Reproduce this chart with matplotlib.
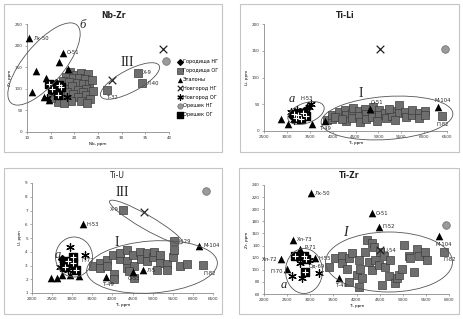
import matplotlib
matplotlib.use("Agg")
import matplotlib.pyplot as plt
from matplotlib.patches import Ellipse, Rectangle
from matplotlib.transforms import Affine2D

W, H = 463, 319

# ---- data: Nb-Zr ----
nbzr_gog_nb = [19.0, 20.3, 21.5, 22.8, 18.2, 19.8, 21.0, 22.3, 17.5, 18.8, 20.5, 21.8, 23.0, 16.8, 19.5,
               22.5, 17.8, 20.8, 21.8, 18.5, 19.8, 22.5, 17.0, 20.8, 23.3, 18.0, 19.2, 21.5, 16.5, 22.7,
               17.8, 15.5, 15.0, 24.0, 23.8, 16.0, 33.5, 34.4, 26.8]
nbzr_gog_zr = [138, 132, 136, 134, 128, 124, 126, 122, 118, 116, 114, 112, 110, 108, 106,
               100, 100, 98, 92, 92, 88, 86, 86, 80, 76, 76, 72, 72, 70, 66,
               66, 90, 78, 94, 120, 96, 137, 113, 97]
nbzr_et_nb = [10.5, 17.5, 16.8, 18.6, 11.9, 14.0, 11.1, 14.7, 13.5]
nbzr_et_zr = [217, 184, 163, 146, 141, 126, 92, 74, 82]
nbzr_nng_nb = [38.8, 28.0]
nbzr_nng_zr = [191, 120]
nbzr_nog_nb = [14.2, 18.5, 15.8]
nbzr_nog_zr = [78, 80, 92]
nbzr_ong_nb = [39.4]
nbzr_ong_zr = [164]
nbzr_oog_nb = [14.7, 16.8, 16.5, 15.2, 17.2]
nbzr_oog_zr = [110, 108, 86, 100, 104]
nbzr_gng_nb = [16.2, 15.8]
nbzr_gng_zr = [114, 103]

# ---- data: Ti-Li ----
tili_gog_ti = [3877, 3986, 3990, 4131, 4150, 4277, 4290, 4300, 4423, 4430, 4440, 4568, 4580, 4600, 4714,
               4720, 4730, 4860, 4870, 4880, 5006, 5010, 5151, 5160, 5297, 5300, 5443, 5450, 5589, 5600,
               5734, 5740, 5880, 5890, 6026, 6030, 6390, 4050, 4200, 5230, 5370, 4960]
tili_gog_li = [20, 22, 30, 26, 36, 40, 30, 18, 34, 25, 43, 38, 28, 16, 42,
               32, 22, 36, 26, 45, 40, 30, 34, 24, 38, 28, 48, 33, 36, 26,
               30, 40, 34, 24, 38, 30, 28, 26, 22, 42, 20, 18]
tili_et_ti = [2878, 3025, 3549, 4824, 6297, 3840, 3450]
tili_et_li = [22, 14, 13, 41, 44, 18, 46]
tili_nng_ti = [5029]
tili_nng_li = [153]
tili_ong_ti = [6464]
tili_ong_li = [153]
tili_oog_ti = [3150, 3250, 3350, 3200, 3300, 3420]
tili_oog_li = [32, 30, 34, 24, 22, 28]
tili_nog_ti = [3100, 3230, 3300, 3520, 3480, 3150]
tili_nog_li = [36, 40, 27, 50, 44, 20]
tili_gng_ti = [3380, 3120]
tili_gng_li = [38, 28]

# ---- data: Ti-U ----
tiu_gog_ti = [3524, 3690, 3700, 3856, 3870, 4022, 4030, 4040, 4188, 4200, 4353, 4360, 4370, 4519, 4530,
              4685, 4700, 4851, 4860, 5017, 5030, 5182, 5190, 5348, 5360, 5514, 5520, 5680, 5846, 4530,
              4400, 5100, 6258, 5530, 4270]
tiu_gog_u = [3.0, 3.2, 2.8, 3.4, 3.0, 3.8, 2.4, 2.0, 3.5, 3.9, 4.1, 3.3, 2.8, 3.8, 3.0,
             4.0, 3.5, 3.3, 3.9, 3.6, 4.0, 3.2, 3.8, 3.1, 2.7, 3.6, 4.1, 3.0, 3.1, 2.1,
             2.6, 2.7, 3.04, 4.78, 7.04]
tiu_et_ti = [2465, 2614, 2738, 2945, 3168, 3840, 4518, 4751, 3260, 6160]
tiu_et_u = [2.07, 2.07, 2.3, 2.3, 2.26, 2.14, 2.55, 2.67, 6.0, 4.42]
tiu_nng_ti = [4785]
tiu_nng_u = [6.87]
tiu_nog_ti = [2945, 3318, 2780, 2696, 2900]
tiu_nog_u = [4.32, 3.76, 3.4, 2.9, 2.7]
tiu_oog_ti = [3027, 3012, 2820, 3094, 2900]
tiu_oog_u = [3.64, 3.16, 2.92, 2.67, 3.3]
tiu_ong_ti = [6318]
tiu_ong_u = [8.44]
tiu_gng_ti = [2750]
tiu_gng_u = [3.5]

# ---- data: Ti-Zr ----
tizr_gog_ti = [3398, 3542, 3686, 3686, 3794, 3830, 3903, 4011, 4047, 4083, 4119, 4191, 4227, 4263, 4335,
               4335, 4371, 4407, 4479, 4515, 4551, 4587, 4623, 4695, 4731, 4839, 4875, 4911, 4983, 5019,
               5127, 5163, 5236, 5308, 5344, 5488, 5524, 3830, 4047, 5885]
tizr_gog_zr = [105, 119, 122, 111, 102, 119, 127, 91, 116, 102, 86, 130, 149, 113, 144,
               100, 138, 116, 108, 130, 75, 122, 105, 89, 116, 78, 86, 91, 102, 141,
               122, 119, 97, 135, 122, 130, 116, 80, 72, 130]
tizr_et_ti = [3016, 4335, 4480, 5777, 2627, 2785, 2375, 3096, 2497, 3615]
tizr_et_zr = [226, 193, 171, 156, 150, 135, 117, 119, 102, 86]
tizr_nng_ti = [4500]
tizr_nng_zr = [133]
tizr_ong_ti = [5935]
tizr_ong_zr = [174]
tizr_oog_ti = [2677, 2908, 2893, 2870]
tizr_oog_zr = [122, 118, 96, 122]
tizr_nog_ti = [2605, 2822, 3183, 2785, 2966]
tizr_nog_zr = [89, 86, 94, 111, 116]
tizr_gng_ti = [2750]
tizr_gng_zr = [125]

legend_names = ['Городища НГ', 'Городища ОГ', 'Эталоны', 'Новгород НГ',
                'Новгород ОГ', 'Орешек НГ', 'Орешек ОГ']

fig = plt.figure(figsize=(W / 100, H / 100), dpi=100)
fig.patch.set_facecolor('white')
px = Affine2D().scale(1.0 / W, 1.0 / H) + fig.transFigure

# panel frames
for x0, y0, x1, y1 in [(4, 4, 222, 152), (240, 4, 459, 152), (4, 168, 222, 314), (239, 168, 459, 314)]:
    fig.add_artist(Rectangle((x0, H - y1), x1 - x0, y1 - y0, transform=px,
                             fill=False, ec='#c4c4c4', lw=0.8))


def make_ax(x0, x1, ytop, ybot):
    ax = fig.add_axes([x0 / W, 1 - ybot / H, (x1 - x0) / W, (ybot - ytop) / H])
    for s in ['top', 'right']:
        ax.spines[s].set_visible(False)
    for s in ['left', 'bottom']:
        ax.spines[s].set_color('#8a8a8a')
        ax.spines[s].set_linewidth(0.6)
    ax.tick_params(length=1.5, width=0.5, colors='#8a8a8a', labelsize=3, labelcolor='#333333', pad=1.5)
    ax.set_facecolor('none')
    return ax


def draw(ax, gng, gog, et, nng, nog, ong, oog, add_label=False):
    kw = dict(clip_on=False)
    lab = legend_names if add_label else [None] * 7
    ax.scatter(*gng, marker='D', s=16, c='black', label=lab[0], zorder=4, **kw)
    ax.scatter(*gog, marker='s', s=28, c='#6e6e6e', edgecolors='#3c3c3c', linewidths=0.5,
               label=lab[1], zorder=3, **kw)
    ax.scatter(*et, marker='^', s=30, c='black', linewidths=0, label=lab[2], zorder=4, **kw)
    ax.scatter(*nng, marker='x', s=30, c='#222222', linewidths=0.9, label=lab[3], zorder=4, **kw)
    ax.scatter(*nog, marker=(6, 2, 0), s=30, c='black', linewidths=0.9, label=lab[4], zorder=4, **kw)
    ax.scatter(*ong, marker='o', s=30, c='#9a9a9a', edgecolors='#6a6a6a', linewidths=0.5,
               label=lab[5], zorder=4, **kw)
    ax.scatter(*oog, marker='s', s=28, c='black', label=lab[6], zorder=4, **kw)
    ax.scatter(*oog, marker='+', s=16, c='white', linewidths=0.8, zorder=5, **kw)


def tag(ax, x, y, text, dx, dy, ha='left'):
    ax.annotate(text, (x, y), xytext=(dx, dy), textcoords='offset points', fontsize=3.8,
                ha=ha, va='center', color='#222222', zorder=6)


def ellipse(cx, cy, w, h, ang):
    fig.add_artist(Ellipse((cx, H - cy), w, h, angle=ang, transform=px, fill=False,
                           ec='#555555', lw=0.6))


def big(x, y, text, size=9, style='italic'):
    fig.text(x / W, 1 - y / H, text, fontsize=size, style=style, family='Liberation Serif',
             ha='center', va='center', color='#222222')


def title(x, y, text, weight='bold'):
    fig.text(x / W, 1 - y / H, text, fontsize=5.5, fontweight=weight,
             ha='center', va='center', color='#222222')


# ---- Nb-Zr ----
ax1 = make_ax(27, 169, 24, 132)
draw(ax1, (nbzr_gng_nb, nbzr_gng_zr), (nbzr_gog_nb, nbzr_gog_zr), (nbzr_et_nb, nbzr_et_zr),
     (nbzr_nng_nb, nbzr_nng_zr), (nbzr_nog_nb, nbzr_nog_zr), (nbzr_ong_nb, nbzr_ong_zr),
     (nbzr_oog_nb, nbzr_oog_zr), add_label=True)
ax1.set_xlim(10, 40)
ax1.set_ylim(0, 250)
ax1.set_xticks(range(10, 41, 5))
ax1.set_yticks(range(0, 251, 50))
title(114, 15, 'Nb-Zr')
ax1.set_xlabel('Nb, ppm', fontsize=3, labelpad=1.5)
ax1.set_ylabel('Zr, ppm', fontsize=3, labelpad=2)
tag(ax1, 10.5, 217, 'Лх-50', 3, 0)
tag(ax1, 17.5, 184, 'О-51', 3, 0)
tag(ax1, 33.5, 137, 'Х-9', 3, 0)
tag(ax1, 34.4, 113, 'Л-40', 3, 0)
tag(ax1, 26.8, 97, 'Т-32', 0, -5)
ellipse(44, 64, 102, 40, 50)
ellipse(130, 81, 66, 22, 28)
big(83, 25, 'б')
big(127, 63, 'III', size=10, style='normal')
ax1.legend(loc='upper left', bbox_to_anchor=(175 / W, 1 - 57 / H), bbox_transform=fig.transFigure,
           frameon=False, fontsize=3.6, labelspacing=0.75, handlelength=0.8, handletextpad=0.3,
           markerscale=0.7, borderpad=0)

# ---- Ti-Li ----
ax2 = make_ax(264, 447, 24, 131)
draw(ax2, (tili_gng_ti, tili_gng_li), (tili_gog_ti, tili_gog_li), (tili_et_ti, tili_et_li),
     (tili_nng_ti, tili_nng_li), (tili_nog_ti, tili_nog_li), (tili_ong_ti, tili_ong_li),
     (tili_oog_ti, tili_oog_li))
ax2.set_xlim(2500, 6500)
ax2.set_ylim(0, 200)
ax2.set_xticks(range(2500, 6501, 500))
ax2.set_yticks(range(0, 201, 50))
title(345, 15, 'Ti-Li')
ax2.set_xlabel('Ti, ppm', fontsize=3, labelpad=1.5)
ax2.set_ylabel('Li, ppm', fontsize=3, labelpad=2)
tag(ax2, 3300, 48, 'Н-53', 0, 5)
tag(ax2, 4824, 41, 'О-51', 0, 5)
tag(ax2, 6297, 44, 'М-104', -2, 5)
tag(ax2, 6390, 28, 'П-82', -4, -6)
tag(ax2, 3840, 18, 'Т-49', -4, -5)
ellipse(306, 113, 38, 20, 20)
ellipse(387, 118, 132, 43, 4)
big(292, 99, 'a')
big(361, 93, 'I', size=10, style='normal')

# ---- Ti-U ----
ax3 = make_ax(32, 213, 183, 293)
draw(ax3, (tiu_gng_ti, tiu_gng_u), (tiu_gog_ti, tiu_gog_u), (tiu_et_ti, tiu_et_u),
     (tiu_nng_ti, tiu_nng_u), (tiu_nog_ti, tiu_nog_u), (tiu_ong_ti, tiu_ong_u),
     (tiu_oog_ti, tiu_oog_u))
ax3.set_xlim(2000, 6500)
ax3.set_ylim(1, 9)
ax3.set_xticks(range(2000, 6501, 500))
ax3.set_yticks(range(1, 10))
title(117, 175, 'Ti-U', weight='normal')
ax3.set_xlabel('Ti, ppm', fontsize=3, labelpad=1.5)
ax3.set_ylabel('U, ppm', fontsize=3, labelpad=2)
tag(ax3, 3260, 6.0, 'Н-53', 3, 0)
tag(ax3, 4270, 7.04, 'Х-9', -3, 0, ha='right')
tag(ax3, 5530, 4.78, 'Н-29', 3, 0)
tag(ax3, 6160, 4.42, 'М-104', 3, 0)
tag(ax3, 6258, 3.04, 'П-82', 0, -6)
tag(ax3, 3840, 2.14, 'Т-49', -2, -5)
tag(ax3, 4518, 2.55, 'О-53', -4, -5)
tag(ax3, 4751, 2.67, 'Л-5', 3, 0)
tag(ax3, 3094, 3.4, 'П-72', 4, 0)
ellipse(74, 257, 37, 40, 0)
ellipse(152, 267, 131, 52, 4)
ellipse(146, 222, 84, 14, -30)
big(58, 255, 'a')
big(117, 242, 'I', size=10, style='normal')
big(122, 193, 'III', size=10, style='normal')

# ---- Ti-Zr ----
ax4 = make_ax(264, 449, 185, 294)
draw(ax4, (tizr_gng_ti, tizr_gng_zr), (tizr_gog_ti, tizr_gog_zr), (tizr_et_ti, tizr_et_zr),
     (tizr_nng_ti, tizr_nng_zr), (tizr_nog_ti, tizr_nog_zr), (tizr_ong_ti, tizr_ong_zr),
     (tizr_oog_ti, tizr_oog_zr))
ax4.set_xlim(2000, 6000)
ax4.set_ylim(60, 240)
ax4.set_xticks(range(2000, 6001, 500))
ax4.set_yticks(range(60, 241, 20))
title(349, 175, 'Ti-Zr')
ax4.set_xlabel('Ti, ppm', fontsize=3, labelpad=1.5)
ax4.set_ylabel('Zr, ppm', fontsize=3, labelpad=2)
tag(ax4, 3016, 226, 'Лх-50', 3, 0)
tag(ax4, 4335, 193, 'О-51', 3, 0)
tag(ax4, 4480, 171, 'П-52', 3, 0)
tag(ax4, 5777, 156, 'М-104', -2, -6)
tag(ax4, 5885, 130, 'П-82', 0, -6)
tag(ax4, 2627, 150, 'Хл-73', 3, 0)
tag(ax4, 2785, 135, 'Р-71', 3, 1)
tag(ax4, 2375, 117, 'Хл-72', -3, 0, ha='right')
tag(ax4, 3096, 119, 'Н-55', 3, 0)
tag(ax4, 2497, 102, 'П-70', -3, -2, ha='right')
tag(ax4, 3615, 86, 'Т-49', -2, -5)
tag(ax4, 4500, 133, 'Ц-54', 3, 0)
tag(ax4, 2908, 112, 'Од-69', 2, -2)
ellipse(304, 271, 37, 45, 0)
ellipse(389, 262, 127, 60, 0)
big(284, 285, 'a')
big(345, 232, 'I', size=10)

fig.savefig('out.png', dpi=100, facecolor='white')
